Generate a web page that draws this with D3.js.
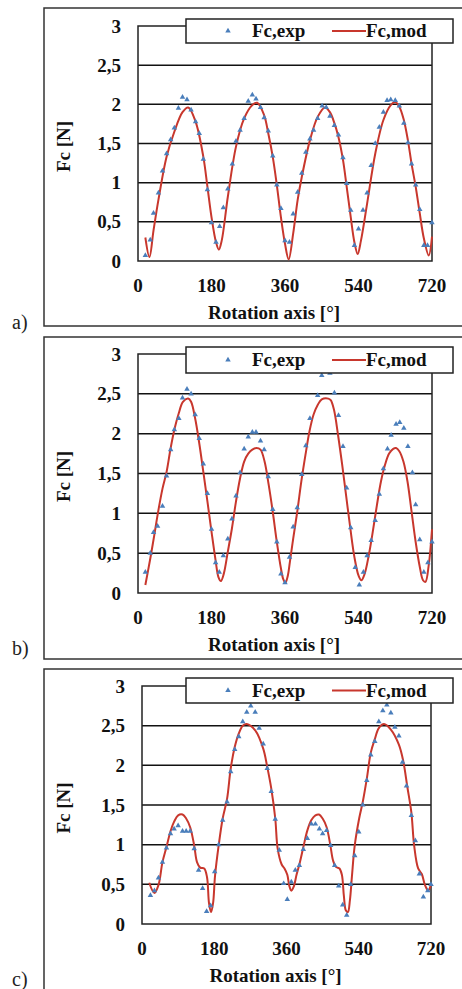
<!DOCTYPE html>
<html>
<head>
<meta charset="utf-8">
<script src="https://cdn.jsdelivr.net/npm/d3@7"></script>
<style>
  body { margin: 0; background: #fff; }
  svg { display: block; font-family: "Liberation Serif", "Times New Roman", serif; }
  .tick-label { font-weight: bold; font-size: 19px; fill: #111; }
  .axis-title { font-weight: bold; font-size: 19px; fill: #111; }
  .legend-text { font-weight: bold; font-size: 19px; fill: #111; }
  .panel-label { font-size: 20px; fill: #222; }
</style>
</head>
<body>
<svg width="462" height="989"></svg>
<script>
// tick values shared by the three panels
const xTicks = [0, 180, 360, 540, 720];
const yTicks = [0, 0.5, 1, 1.5, 2, 2.5, 3];
const yTickLabels = ["0", "0,5", "1", "1,5", "2", "2,5", "3"];
const panelLabels = ["a)", "b)", "c)"];

// [angle deg, Fc N]
const expA = [[18,0.07],[30,0.27],[38,0.61],[50,0.87],[60,1.15],[70,1.37],[80,1.55],[89,1.70],[99,1.95],[109,2.09],
  [120,2.06],[130,1.93],[141,1.78],[150,1.63],[160,1.30],[170,0.91],[180,0.49],[191,0.24],[200,0.44],[209,0.68],
  [220,0.92],[231,1.24],[240,1.53],[250,1.67],[260,1.82],[270,2.04],[280,2.12],[289,2.07],[300,1.96],[309,1.83],
  [319,1.66],[330,1.34],[340,0.97],[350,0.67],[360,0.26],[371,0.24],[380,0.60],[391,0.88],[401,1.12],[411,1.39],
  [421,1.56],[430,1.67],[440,1.82],[451,1.98],[461,1.96],[470,1.85],[481,1.73],[491,1.61],[502,1.32],[511,0.99],
  [521,0.65],[530,0.20],[540,0.41],[551,0.65],[561,0.87],[571,1.22],[581,1.50],[591,1.71],[601,1.90],[610,2.05],
  [619,2.06],[630,2.05],[640,1.98],[651,1.76],[661,1.51],[670,1.24],[680,0.97],[690,0.66],[700,0.20],[709,0.20],[720,0.49]];

const modA = [[18,0.30],[28,0.05],[38,0.39],[50,0.78],[70,1.33],[89,1.65],[109,1.90],[123,1.96],[141,1.78],[160,1.33],
  [170,0.95],[180,0.56],[191,0.24],[198,0.145],[205,0.26],[220,0.82],[240,1.46],[260,1.82],[280,1.99],[292,2.02],
  [309,1.86],[319,1.63],[330,1.33],[340,0.97],[350,0.56],[360,0.22],[369,0.02],[380,0.35],[391,0.78],[401,1.07],
  [421,1.54],[440,1.84],[458,1.96],[470,1.90],[481,1.76],[491,1.58],[502,1.29],[511,0.95],[521,0.56],[530,0.24],
  [538,0.09],[546,0.26],[561,0.73],[581,1.37],[601,1.80],[619,1.99],[630,2.03],[640,1.97],[651,1.80],[661,1.54],
  [670,1.24],[680,0.95],[690,0.61],[700,0.29],[712,0.07],[720,0.31]];

const expB = [[18,0.26],[30,0.50],[38,0.76],[48,0.84],[60,1.09],[70,1.47],[80,1.80],[89,2.05],[100,2.19],[109,2.45],
  [120,2.56],[130,2.50],[140,2.24],[150,1.94],[160,1.62],[170,1.25],[180,0.80],[190,0.38],[199,0.26],[209,0.47],
  [220,0.68],[230,0.93],[240,1.22],[250,1.51],[260,1.81],[270,1.96],[280,2.02],[289,2.02],[300,1.91],[309,1.80],
  [319,1.46],[330,1.05],[340,0.64],[350,0.24],[360,0.13],[371,0.45],[380,0.83],[390,1.07],[401,1.49],[411,1.85],
  [421,2.19],[440,2.48],[450,2.73],[470,2.76],[481,2.51],[491,2.23],[502,1.84],[511,1.32],[521,0.82],[532,0.32],
  [542,0.10],[552,0.26],[561,0.47],[571,0.66],[581,0.91],[591,1.24],[601,1.56],[611,1.81],[620,1.98],[632,2.12],
  [641,2.14],[651,2.07],[661,1.84],[672,1.51],[680,1.11],[690,0.67],[700,0.26],[710,0.38],[720,0.64]];

const modB = [[18,0.10],[30,0.43],[40,0.73],[50,1.04],[60,1.31],[70,1.52],[80,1.82],[90,2.07],[100,2.26],[110,2.40],
  [123,2.44],[130,2.40],[140,2.19],[150,1.88],[160,1.52],[170,1.15],[180,0.77],[190,0.41],[197,0.20],[203,0.15],
  [210,0.24],[220,0.52],[230,0.81],[240,1.15],[250,1.44],[260,1.65],[270,1.75],[280,1.80],[290,1.82],[300,1.80],
  [310,1.65],[320,1.36],[330,1.02],[340,0.64],[350,0.31],[356,0.17],[361,0.13],[367,0.22],[372,0.39],[380,0.68],
  [390,1.02],[400,1.40],[410,1.73],[420,2.03],[430,2.24],[440,2.36],[450,2.43],[466,2.44],[472,2.42],[480,2.30],
  [490,1.98],[500,1.61],[510,1.21],[520,0.81],[530,0.45],[540,0.22],[547,0.16],[555,0.24],[565,0.47],[575,0.77],
  [585,1.10],[595,1.40],[605,1.61],[615,1.75],[625,1.81],[632,1.82],[640,1.78],[650,1.65],[660,1.40],[670,1.02],
  [680,0.64],[690,0.33],[698,0.16],[704,0.14],[712,0.35],[720,0.80]];

const expC = [[21,0.36],[31,0.42],[41,0.58],[51,0.78],[61,0.96],[71,1.14],[80,1.20],[90,1.24],[101,1.17],[110,1.17],
  [120,1.17],[130,0.95],[141,0.68],[151,0.45],[161,0.16],[171,0.23],[181,0.66],[191,1.00],[201,1.31],[212,1.54],
  [221,1.92],[231,2.20],[241,2.36],[251,2.55],[261,2.67],[271,2.75],[282,2.67],[292,2.47],[302,2.27],[312,1.96],
  [322,1.67],[332,1.32],[342,0.93],[353,0.51],[362,0.31],[372,0.53],[382,0.68],[392,0.74],[402,0.94],[412,1.08],
  [422,1.26],[432,1.26],[442,1.20],[450,1.14],[460,1.18],[470,0.99],[480,0.74],[490,0.48],[500,0.24],[510,0.11],
  [520,0.50],[530,0.86],[540,1.16],[550,1.50],[560,1.81],[570,2.13],[580,2.30],[590,2.55],[600,2.69],[610,2.76],
  [620,2.66],[630,2.48],[640,2.37],[649,2.04],[659,1.74],[671,1.37],[681,1.05],[691,0.63],[701,0.34],[712,0.42],[720,0.50]];

const modC = [[18,0.52],[31,0.39],[41,0.49],[51,0.78],[61,0.97],[71,1.17],[80,1.29],[90,1.37],[101,1.38],[110,1.33],
  [120,1.22],[130,0.99],[137,0.78],[145,0.71],[155,0.70],[162,0.59],[167,0.26],[172,0.15],[177,0.26],[182,0.61],
  [191,0.99],[201,1.33],[212,1.58],[221,1.96],[231,2.23],[241,2.40],[251,2.50],[261,2.52],[282,2.44],[302,2.21],
  [312,1.98],[322,1.71],[332,1.33],[338,0.95],[348,0.75],[355,0.70],[362,0.62],[367,0.48],[372,0.42],[378,0.47],
  [385,0.62],[392,0.75],[402,0.97],[412,1.18],[422,1.31],[432,1.37],[441,1.38],[450,1.33],[460,1.22],[469,1.00],
  [476,0.80],[483,0.72],[492,0.70],[498,0.62],[503,0.35],[508,0.17],[513,0.15],[518,0.30],[523,0.60],[530,0.99],
  [541,1.33],[550,1.54],[560,1.83],[570,2.16],[580,2.33],[590,2.47],[603,2.52],[620,2.45],[640,2.26],[651,2.05],
  [661,1.73],[671,1.41],[678,0.99],[688,0.70],[697,0.63],[705,0.49],[713,0.42],[720,0.50]];

const expSeries = [expA, expB, expC];
const modSeries = [modA, modB, modC];

// layout of the three stacked panels
const layout = [
  { frameTop: 8,   frameBottom: 326, left: 138, right: 432, top: 26,  bottom: 261, legY: 19,  legH: 24, labelY: 329 },
  { frameTop: 337, frameBottom: 659, left: 138, right: 432, top: 354, bottom: 593, legY: 347, legH: 26, labelY: 655 },
  { frameTop: 669, frameBottom: 1000, left: 142, right: 431, top: 686, bottom: 924, legY: 678, legH: 25, labelY: 986 }
];

const blue = "#4a7ebb";
const red = "#c8372d";

const svg = d3.select("svg");

layout.forEach((p, i) => {
  const g = svg.append("g").attr("class", "panel");

  // outer chart frame
  g.append("rect")
    .attr("x", 44).attr("y", p.frameTop)
    .attr("width", 440).attr("height", p.frameBottom - p.frameTop)
    .attr("fill", "#fff").attr("stroke", "#333").attr("stroke-width", 1.5);

  g.append("text").attr("class", "panel-label")
    .attr("x", 12).attr("y", p.labelY).text(panelLabels[i]);

  const x = d3.scaleLinear().domain([0, 720]).range([p.left, p.right]);
  const y = d3.scaleLinear().domain([0, 3]).range([p.bottom, p.top]);

  // horizontal gridlines
  g.selectAll("line.grid")
    .data(yTicks.slice(1, -1))
    .enter().append("line")
    .attr("class", "grid")
    .attr("x1", p.left).attr("x2", p.right)
    .attr("y1", d => y(d)).attr("y2", d => y(d))
    .attr("stroke", "#111").attr("stroke-width", 1.5);

  // plot border
  g.append("rect")
    .attr("x", p.left).attr("y", p.top)
    .attr("width", p.right - p.left).attr("height", p.bottom - p.top)
    .attr("fill", "none").attr("stroke", "#222").attr("stroke-width", 1.5);

  g.selectAll("text.ytick")
    .data(yTicks)
    .enter().append("text")
    .attr("class", "tick-label ytick")
    .attr("x", p.left - 17)
    .attr("y", d => y(d))
    .attr("dy", "0.35em")
    .attr("text-anchor", "end")
    .text((d, j) => yTickLabels[j]);

  g.selectAll("text.xtick")
    .data(xTicks)
    .enter().append("text")
    .attr("class", "tick-label xtick")
    .attr("x", d => x(d))
    .attr("y", p.bottom + 31)
    .attr("text-anchor", "middle")
    .text(d => d);

  g.append("text").attr("class", "axis-title")
    .attr("x", (p.left + p.right) / 2 - 11)
    .attr("y", p.bottom + 58)
    .attr("text-anchor", "middle")
    .text("Rotation axis [°]");

  const cy = (p.top + p.bottom) / 2 + 3;
  g.append("text").attr("class", "axis-title")
    .attr("transform", `translate(70, ${cy}) rotate(-90)`)
    .attr("text-anchor", "middle")
    .text("Fc [N]");

  // model curve
  const line = d3.line()
    .x(d => x(d[0]))
    .y(d => y(d[1]))
    .curve(d3.curveCatmullRom.alpha(0.5));

  g.append("path")
    .datum(modSeries[i])
    .attr("d", line)
    .attr("fill", "none")
    .attr("stroke", red)
    .attr("stroke-width", 2);

  // experimental points
  const tri = d3.symbol().type(d3.symbolTriangle).size(13);
  g.selectAll("path.exp")
    .data(expSeries[i])
    .enter().append("path")
    .attr("class", "exp")
    .attr("d", tri)
    .attr("transform", d => `translate(${x(d[0])}, ${y(d[1])})`)
    .attr("fill", blue);

  // legend
  const lx = 186, lw = 267;
  const leg = g.append("g").attr("transform", `translate(${lx}, ${p.legY})`);
  leg.append("rect")
    .attr("width", lw).attr("height", p.legH)
    .attr("fill", "#fff").attr("stroke", "#222").attr("stroke-width", 1.5);
  const my = p.legH / 2;
  leg.append("path")
    .attr("d", tri)
    .attr("transform", `translate(42, ${my})`)
    .attr("fill", blue);
  leg.append("text").attr("class", "legend-text")
    .attr("x", 66).attr("y", my + 6).text("Fc,exp");
  leg.append("line")
    .attr("x1", 146).attr("x2", 180)
    .attr("y1", my).attr("y2", my)
    .attr("stroke", red).attr("stroke-width", 2);
  leg.append("text").attr("class", "legend-text")
    .attr("x", 180).attr("y", my + 6).text("Fc,mod");
});
</script>
</body>
</html>
